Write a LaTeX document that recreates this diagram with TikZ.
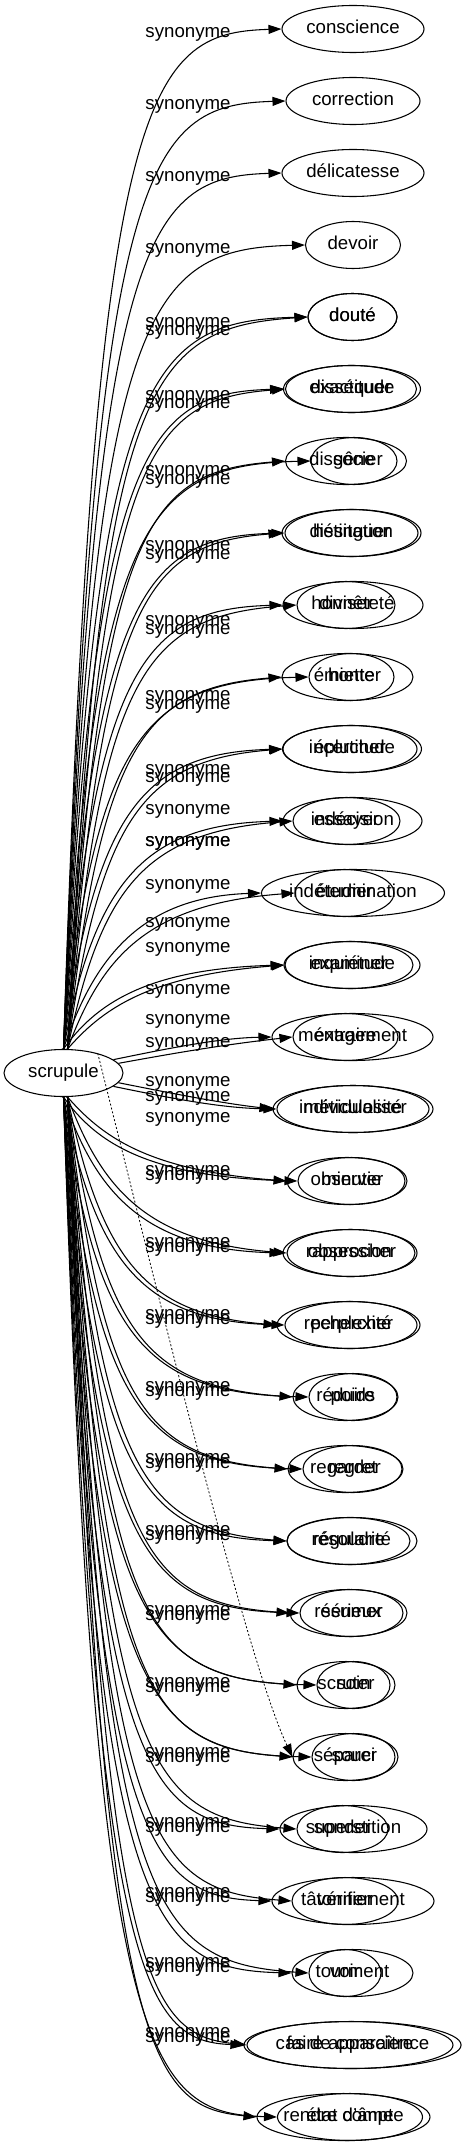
\documentclass[tikz,border=0pt]{standalone}
\usepackage{fontspec}
\setmainfont{Liberation Sans}
\usetikzlibrary{shapes.geometric, arrows.meta}

\begin{document}
\begin{tikzpicture}[x=0.75pt, y=-0.75pt,
  every node/.style={font=\fontsize{14pt}{16pt}\selectfont, text height=10pt, text depth=3pt},
  word/.style={draw, ellipse, line width=0.8pt, inner sep=0pt,
    minimum height=35.25pt, minimum width=#1*0.75pt},
  syn/.style={line width=0.8pt, -{Triangle[length=9.75pt, width=6.75pt]}},
  lbl/.style={inner sep=0pt}]
\useasboundingbox (0,0) rectangle (465,2147);

\node[word=119] (sc) at (63.5,1073) {scrupule};

% first list
\node[word=142] (a1) at (353,29) {conscience};
\node[word=134] (a2) at (353,101) {correction};
\node[word=142] (a3) at (353,173) {délicatesse};
\node[word=95] (a4) at (353,245) {devoir};
\node[word=89] (a5) at (352.5,317) {doute};
\node[word=137] (a6) at (352,389) {exactitude};
\node[word=86] (a7) at (354,461) {gêne};
\node[word=136] (a8) at (353,533) {hésitation};
\node[word=140] (a9) at (353,605) {honnêteté};
\node[word=85] (a10) at (351.5,677) {honte};
\node[word=139] (a11) at (352,749) {incertitude};
\node[word=139] (a12) at (352.5,821) {indécision};
\node[word=183] (a13) at (353,893) {indétermination};
\node[word=136] (a14) at (352,965) {inquiétude};
\node[word=161] (a15) at (352.5,1037) {ménagement};
\node[word=152] (a16) at (353,1109) {méticulosité};
\node[word=107] (a17) at (351.5,1181) {minutie};
\node[word=134] (a18) at (350,1253) {obsession};
\node[word=132] (a19) at (351,1325) {perplexité};
\node[word=88] (a20) at (353,1397) {poids};
\node[word=99] (a21) at (352.5,1469) {regret};
\node[word=130] (a22) at (352,1541) {régularité};
\node[word=103] (a23) at (351.5,1613) {sérieux};
\node[word=73] (a24) at (353.5,1685) {soin};
\node[word=83] (a25) at (353.5,1757) {souci};
\node[word=147] (a26) at (353.5,1829) {superstition};
\node[word=162] (a27) at (353,1901) {tâtonnement};
\node[word=121] (a28) at (352.5,1973) {tourment};
\node[word=212] (a29) at (352.5,2045) {cas de conscience};
\node[word=145] (a30) at (350,2117) {état d'âme};

% second list
\node[word=89] (b5) at (352.5,317) {douté};
\node[word=131] (b6) at (351,389) {disséquer};
\node[word=121] (b7) at (346,461) {dissocier};
\node[word=136] (b8) at (350,533) {distinguer};
\node[word=98] (b9) at (346,605) {diviser};
\node[word=131] (b10) at (347.5,677) {émietter};
\node[word=134] (b11) at (350,749) {éplucher};
\node[word=107] (b12) at (346.5,821) {essayer};
\node[word=99] (b13) at (344.5,893) {étudier};
\node[word=128] (b14) at (349,965) {examiner};
\node[word=105] (b15) at (345.5,1037) {extraire};
\node[word=160] (b16) at (353,1109) {individualiser};
\node[word=120] (b17) at (347,1181) {observer};
\node[word=128] (b18) at (351,1253) {rapprocher};
\node[word=143] (b19) at (348.5,1325) {rechercher};
\node[word=105] (b20) at (345.5,1397) {réduire};
\node[word=115] (b21) at (345.5,1469) {regarder};
\node[word=123] (b22) at (348.5,1541) {résoudre};
\node[word=117] (b23) at (348.5,1613) {résumer};
\node[word=98] (b24) at (346,1685) {scruter};
\node[word=105] (b25) at (345.5,1757) {séparer};
\node[word=91] (b26) at (342.5,1829) {sonder};
\node[word=106] (b27) at (345,1901) {vérifier};
\node[word=72] (b28) at (345,1973) {voir};
\node[word=206] (b29) at (350,2045) {faire apparaître};
\node[word=173] (b30) at (343.5,2117) {rendre compte};

% labels
\foreach \k/\ly in {1/33, 2/105, 3/177, 4/249, 5/323, 6/396, 7/471, 8/546, 9/621, 10/696,
    11/770, 12/810, 13/842, 14/923, 15/990, 16/1043, 17/1097, 18/1171, 19/1243, 20/1315,
    21/1387, 22/1459, 23/1531, 24/1611, 25/1683, 26/1753, 27/1823, 28/1893, 29/1963, 30/2033}
  \node[lbl] (la\k) at (188,\ly) {synonyme};
\foreach \k/\ly in {5/331, 6/404, 7/480, 8/555, 9/630, 10/705, 11/778, 12/842, 13/885,
    14/948, 15/1020, 16/1082, 17/1118, 18/1176, 19/1248, 20/1320, 21/1392, 22/1464,
    23/1536, 24/1616, 25/1688, 26/1758, 27/1828, 28/1898, 29/1968, 30/2038}
  \node[lbl] (lb\k) at (188,\ly) {synonyme};

% edges going up
\foreach \k in {1,...,14}{
  \pgfmathsetmacro\yt{29+72*(\k-1)}
  \pgfmathsetmacro\hh{\k<14 ? 60 : 40}
  \draw[syn] (sc.north) .. controls (95,{\yt+\hh}) and (145,{\yt+4}) .. (a\k.west);
}
\foreach \k in {5,...,14}{
  \pgfmathsetmacro\yt{29+72*(\k-1)}
  \pgfmathsetmacro\hh{\k<14 ? 60 : 40}
  \draw[syn] ([xshift=3pt]sc.north) .. controls (101,{\yt+\hh+6}) and (145,{\yt+11}) .. (b\k.west);
}

% edges next to the node
\draw[syn] (sc.15) .. controls (170,1048) and (220,1038) .. (a15.west);
\draw[syn] (sc.10) .. controls (170,1054) and (220,1045) .. (b15.west);
\draw[syn] (sc.-15) .. controls (170,1098) and (220,1108) .. (a16.west);
\draw[syn] (sc.-10) .. controls (170,1093) and (220,1103) .. (b16.west);

% edges going down
\foreach \k in {17,...,30}{
  \pgfmathsetmacro\yt{29+72*(\k-1)}
  \pgfmathsetmacro\hh{\k>17 ? 60 : 40}
  \draw[syn] (sc.south) .. controls (95,{\yt-\hh}) and (145,{\yt-4}) .. (a\k.west);
  \draw[syn] ([xshift=3pt]sc.south) .. controls (101,{\yt-\hh-6}) and (145,{\yt-11}) .. (b\k.west);
}

\draw[syn, line width=0.6pt, dash pattern=on 1.5pt off 1.5pt] (sc.30) .. controls (150,1260) and (245,1657) .. (b25.west);
\end{tikzpicture}
\end{document}
